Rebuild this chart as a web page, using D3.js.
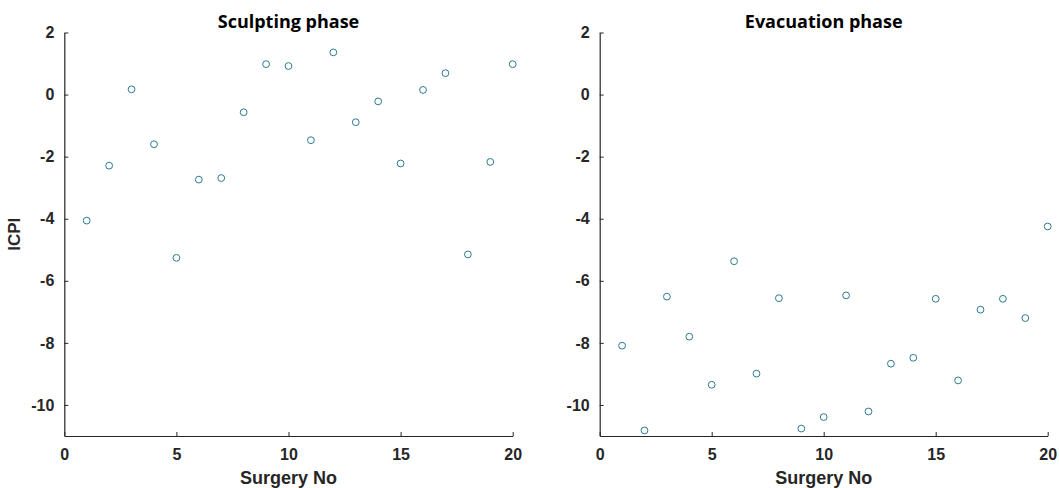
<!DOCTYPE html>
<html>
<head>
<meta charset="utf-8">
<script src="https://cdn.jsdelivr.net/npm/d3@7"></script>
<style>
  body { margin: 0; background: #fff; }
  .tick text { font-family: Arial, "Liberation Sans", sans-serif; font-weight: bold; font-size: 16px; fill: #262626; }
  .domain, .tick line { stroke: #262626; }
</style>
</head>
<body>
<div id="chart"></div>
<script>
// surgery numbers 1..20
var surgeryNo = [1,2,3,4,5,6,7,8,9,10,11,12,13,14,15,16,17,18,19,20];

// ICPI values
var sculptingICPI = [-4.06,-2.29,0.17,-1.60,-5.26,-2.74,-2.69,-0.57,0.98,0.92,
                     -1.47,1.36,-0.89,-0.22,-2.22,0.15,0.69,-5.15,-2.17,0.98];
var evacuationICPI = [-8.09,-10.82,-6.51,-7.80,-9.35,-5.37,-8.99,-6.56,-10.76,-10.39,
                      -6.47,-10.21,-8.67,-8.48,-6.58,-9.21,-6.93,-6.58,-7.20,-4.25];

var xTicks = [0,5,10,15,20];
var yTicks = [2,0,-2,-4,-6,-8,-10];
var titles = ["Sculpting phase", "Evacuation phase"];

var width = 1059, height = 488;

var svg = d3.select("#chart")
  .append("svg")
  .attr("width", width)
  .attr("height", height);

var panels = [
  {left: 64.3, right: 512.7, title: titles[0], values: sculptingICPI, ylabel: "ICPI"},
  {left: 599.7, right: 1047.7, title: titles[1], values: evacuationICPI, ylabel: null}
];

var plotTop = 32.5, plotBottom = 436;

// plain hyphen like the original, not the unicode minus
function plain(d) { return String(d); }

panels.forEach(function(p) {
  var x = d3.scaleLinear().domain([0, 20]).range([p.left, p.right]);
  var y = d3.scaleLinear().domain([-11, 2]).range([plotBottom, plotTop]);

  var g = svg.append("g");

  // x axis, ticks pointing in
  g.append("g")
    .attr("transform", "translate(0," + plotBottom + ")")
    .call(d3.axisBottom(x).tickValues(xTicks).tickFormat(plain).tickSizeInner(-4).tickSizeOuter(0).tickPadding(13));

  // y axis
  g.append("g")
    .attr("transform", "translate(" + p.left + ",0)")
    .call(d3.axisLeft(y).tickValues(yTicks).tickFormat(plain).tickSizeInner(-4).tickSizeOuter(0).tickPadding(10));

  g.selectAll(".domain").attr("stroke-width", 1.2);

  g.append("text")
    .attr("x", (p.left + p.right) / 2)
    .attr("y", 28)
    .attr("text-anchor", "middle")
    .style("font-family", "'Open Sans', 'Noto Sans', sans-serif")
    .style("font-weight", "bold")
    .style("font-size", "18px")
    .style("fill", "#000")
    .text(p.title);

  g.append("text")
    .attr("x", (p.left + p.right) / 2)
    .attr("y", 484)
    .attr("text-anchor", "middle")
    .style("font-family", "Arial, 'Liberation Sans', sans-serif")
    .style("font-weight", "bold")
    .style("font-size", "18px")
    .style("fill", "#262626")
    .text("Surgery No");

  if (p.ylabel) {
    g.append("text")
      .attr("transform", "translate(20," + ((plotTop + plotBottom) / 2) + ") rotate(-90)")
      .attr("text-anchor", "middle")
      .style("font-family", "Arial, 'Liberation Sans', sans-serif")
      .style("font-weight", "bold")
      .style("font-size", "17px")
      .style("fill", "#262626")
      .text(p.ylabel);
  }

  g.selectAll("circle")
    .data(p.values)
    .enter().append("circle")
    .attr("cx", function(d, i) { return x(surgeryNo[i]); })
    .attr("cy", function(d) { return y(d); })
    .attr("r", 3.4)
    .style("fill", "none")
    .style("stroke", "#2a7b8c")
    .style("stroke-width", 1);
});
</script>
</body>
</html>
